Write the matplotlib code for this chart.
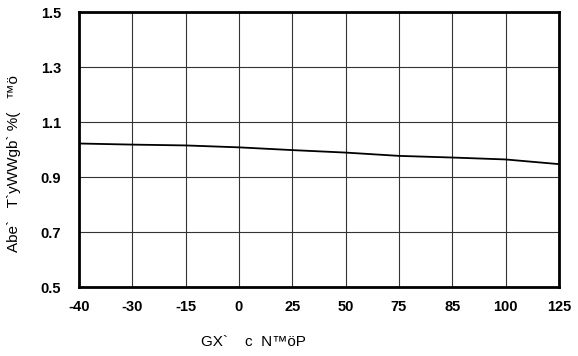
import numpy as np
from matplotlib import pyplot as plt

plt.rcParams['font.family'] = ['Liberation Sans', 'DejaVu Sans']

# Data
temps = ['-40', '-30', '-15', '0', '25', '50', '75', '85', '100', '125']
ratio = [1.022, 1.018, 1.015, 1.008, 0.998, 0.989, 0.977, 0.971, 0.964, 0.947]
yticks = [0.5, 0.7, 0.9, 1.1, 1.3, 1.5]

fig = plt.figure(figsize=(5.78, 3.56), dpi=100)
ax = fig.add_axes([0.1367, 0.1938, 0.8303, 0.7722])

x = np.arange(len(temps))
ax.plot(x, ratio, color='black', lw=1.3)

ax.set_xlim(0, len(temps) - 1)
ax.set_ylim(0.5, 1.5)
ax.set_xticks(x)
ax.set_xticklabels(temps, fontsize=10.5, fontweight='bold')
ax.set_yticks(yticks)
ax.set_yticklabels(['%.1f' % v for v in yticks], fontsize=10.5, fontweight='bold')
ax.tick_params(axis='x', length=0, pad=9)
ax.tick_params(axis='y', length=0, pad=13)

ax.grid(True, color='#333333', lw=0.8)
for s in ax.spines.values():
    s.set_linewidth(2)
    s.set_zorder(5)

ax.set_xlabel('GX`    c  N\u2122\u00f6P', fontsize=11)
ax.set_ylabel('Abe`   T`yWWgb` %(   \u2122\u00f6', fontsize=11)
ax.xaxis.set_label_coords(0.363, -0.175)
ax.yaxis.set_label_coords(-0.12, 0.45)

fig.savefig('out.png')
